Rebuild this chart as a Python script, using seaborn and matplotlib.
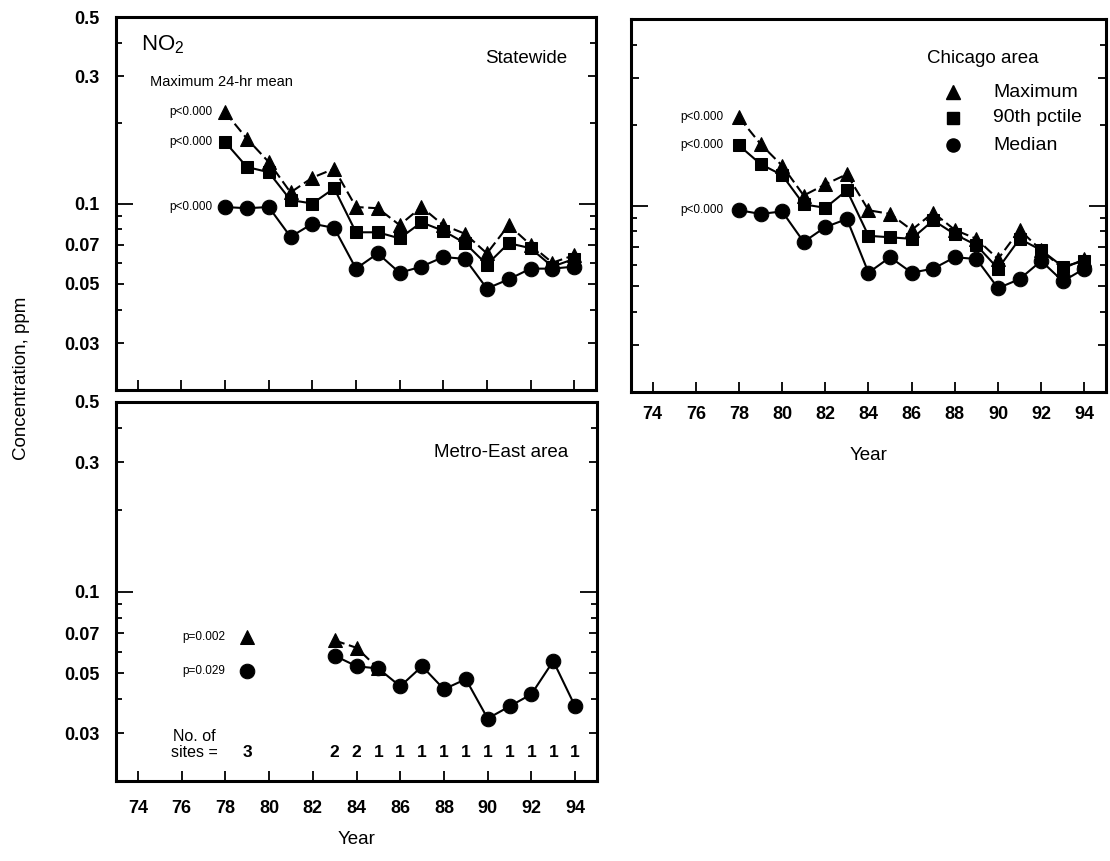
import matplotlib
matplotlib.use("Agg")
import matplotlib.pyplot as plt
import matplotlib.ticker as mticker
import numpy as np
import pandas as pd
import seaborn as sns

# ---- data: NO2 maximum 24-hr mean concentrations (ppm) ----
years = list(range(78, 95))

state_max = [0.220, 0.175, 0.143, 0.110, 0.125, 0.135, 0.097, 0.096, 0.083,
             0.097, 0.083, 0.077, 0.065, 0.083, 0.070, 0.060, 0.064]
state_p90 = [0.170, 0.137, 0.131, 0.103, 0.100, 0.114, 0.078, 0.078, 0.074,
             0.085, 0.079, 0.071, 0.059, 0.071, 0.068, 0.058, 0.062]
state_med = [0.097, 0.096, 0.097, 0.075, 0.084, 0.081, 0.057, 0.065, 0.055,
             0.058, 0.063, 0.062, 0.048, 0.052, 0.057, 0.057, 0.058]

chi_max = [0.214, 0.170, 0.141, 0.109, 0.120, 0.131, 0.096, 0.093, 0.081,
           0.094, 0.081, 0.075, 0.063, 0.081, 0.068, 0.058, 0.063]
chi_p90 = [0.168, 0.143, 0.130, 0.101, 0.098, 0.114, 0.077, 0.076, 0.075,
           0.088, 0.078, 0.071, 0.058, 0.075, 0.068, 0.059, 0.062]
chi_med = [0.096, 0.093, 0.095, 0.073, 0.083, 0.089, 0.056, 0.064, 0.056,
           0.058, 0.064, 0.063, 0.049, 0.053, 0.062, 0.052, 0.058]

metro_years = [79, 80, 81, 82, 83, 84, 85, 86, 87, 88, 89, 90, 91, 92, 93, 94]
metro_max = [0.068, np.nan, np.nan, np.nan, 0.066, 0.062, 0.052,
             np.nan, np.nan, np.nan, np.nan, np.nan, np.nan, np.nan, np.nan, np.nan]
metro_med = [0.051, np.nan, np.nan, np.nan, 0.058, 0.053, 0.052, 0.0447, 0.053,
             0.0436, 0.0475, 0.034, 0.0377, 0.0418, 0.0554, 0.0377]
metro_sites = [3, None, None, None, 2, 2, 1, 1, 1, 1, 1, 1, 1, 1, 1, 1]

state_p = ["p<0.000", "p<0.000", "p<0.000"]
chi_p = ["p<0.000", "p<0.000", "p<0.000"]
metro_p = ["p=0.002", "p=0.029"]

ytick_vals = [0.03, 0.05, 0.07, 0.1, 0.3, 0.5]
ytick_text = ["0.03", "0.05", "0.07", "0.1", "0.3", "0.5"]
xtick_vals = list(range(74, 95, 2))

# ---- style ----
sns.set_theme(style="ticks")
plt.rcParams["font.family"] = ["Liberation Sans", "DejaVu Sans"]
plt.rcParams["mathtext.fontset"] = "custom"
plt.rcParams["mathtext.rm"] = "Liberation Sans"
for key in ["text.color", "axes.labelcolor", "xtick.color", "ytick.color",
            "axes.edgecolor"]:
    plt.rcParams[key] = "black"

W, H = 1110, 861
fig = plt.figure(figsize=(W / 100, H / 100), dpi=100)


def px_axes(left, top, right, bottom):
    return fig.add_axes([left / W, 1 - bottom / H, (right - left) / W, (bottom - top) / H])


ax_s = px_axes(116, 17, 596, 390)
ax_c = px_axes(631, 19, 1106, 392)
ax_m = px_axes(116, 402, 597, 781)

MK = dict(max=("^", 10.5), p90=("s", 9.0), med=("o", 10.5))
LS = dict(max=(0, (5, 2.2)), p90="-", med="-")


def draw_series(ax, xs, ys, kind):
    df = pd.DataFrame({"Year": xs, "Conc": ys})
    run = df["Conc"].isna().cumsum()
    df = df.assign(run=run).dropna()
    marker, ms = MK[kind]
    for _, seg in df.groupby("run"):
        sns.lineplot(data=seg, x="Year", y="Conc", ax=ax, color="black",
                     marker=marker, markersize=ms, markeredgecolor="black",
                     linestyle=LS[kind], linewidth=1.5, estimator=None,
                     sort=True, legend=False)


def style_axes(ax, ylabels=True, xlabels=True):
    ax.set_yscale("log")
    ax.set_ylim(0.02, 0.5)
    ax.set_xlim(73.0, 95.0)
    ax.yaxis.set_major_locator(mticker.FixedLocator(ytick_vals))
    ax.yaxis.set_minor_locator(mticker.FixedLocator(
        [0.02, 0.04, 0.06, 0.08, 0.09, 0.2, 0.4]))
    ax.yaxis.set_minor_formatter(mticker.NullFormatter())
    if ylabels:
        ax.set_yticklabels(ytick_text)
    else:
        ax.set_yticklabels([])
    ax.set_xticks(xtick_vals)
    if xlabels:
        ax.set_xticklabels([str(v) for v in xtick_vals])
    else:
        ax.set_xticklabels([])
    ax.tick_params(axis="y", which="both", direction="in", left=True, right=True,
                   width=1.3, length=6, labelsize=13, pad=12, color="black",
                   labelcolor="black")
    ax.tick_params(axis="y", which="minor", length=4)
    ax.tick_params(axis="x", direction="in", bottom=True, top=False,
                   width=1.3, length=7, labelsize=13, color="black",
                   labelcolor="black")
    for t in ax.get_xticklabels() + ax.get_yticklabels():
        t.set_fontweight("bold")
    # the 0.1 decade tick is drawn longer
    for t in ax.yaxis.get_major_ticks():
        if abs(t.get_loc() - 0.1) < 1e-9:
            t.tick1line.set_markersize(12)
            t.tick2line.set_markersize(12)
    for sp in ax.spines.values():
        sp.set_visible(True)
        sp.set_linewidth(2.2)
        sp.set_color("black")
    ax.set_xlabel("")
    ax.set_ylabel("")
    ax.grid(False)


# ---- Statewide ----
draw_series(ax_s, years, state_max, "max")
draw_series(ax_s, years, state_p90, "p90")
draw_series(ax_s, years, state_med, "med")
style_axes(ax_s, ylabels=True, xlabels=False)
ax_s.text(0.052, 0.925, r"NO$_2$", transform=ax_s.transAxes, fontsize=16,
          va="center", ha="left")
ax_s.text(0.071, 0.826, "Maximum 24-hr mean", transform=ax_s.transAxes,
          fontsize=10.5, va="center", ha="left")
ax_s.text(0.94, 0.89, "Statewide", transform=ax_s.transAxes, fontsize=13.5,
          va="center", ha="right")
for lab, v in zip(state_p, [state_max[0], state_p90[0], state_med[0]]):
    ax_s.text(77.4, v, lab, fontsize=8.5, va="center", ha="right")

# ---- Chicago area ----
draw_series(ax_c, years, chi_max, "max")
draw_series(ax_c, years, chi_p90, "p90")
draw_series(ax_c, years, chi_med, "med")
style_axes(ax_c, ylabels=False, xlabels=True)
ax_c.tick_params(axis="x", pad=10)
ax_c.set_xlabel("Year", fontsize=13.5, labelpad=17)
ax_c.text(0.623, 0.895, "Chicago area", transform=ax_c.transAxes, fontsize=13.5,
          va="center", ha="left")
for lab, v in zip(chi_p, [chi_max[0], chi_p90[0], chi_med[0]]):
    ax_c.text(77.3, v, lab, fontsize=8.5, va="center", ha="right")
legend_rows = [("max", "Maximum", 0.804), ("p90", "90th pctile", 0.735),
               ("med", "Median", 0.662)]
for kind, lab, yy in legend_rows:
    marker, ms = MK[kind]
    ax_c.plot([0.678], [yy], marker=marker, markersize=ms * 0.9, color="black",
              linestyle="none", transform=ax_c.transAxes, clip_on=False)
    ax_c.text(0.762, yy, lab, transform=ax_c.transAxes, fontsize=14,
              va="center", ha="left")

# ---- Metro-East area ----
draw_series(ax_m, metro_years, metro_max, "max")
draw_series(ax_m, metro_years, metro_med, "med")
style_axes(ax_m, ylabels=True, xlabels=True)
ax_m.tick_params(axis="x", pad=14)
ax_m.set_xlabel("Year", fontsize=13.5, labelpad=10)
ax_m.text(0.94, 0.868, "Metro-East area", transform=ax_m.transAxes,
          fontsize=13.5, va="center", ha="right")
for lab, v in zip(metro_p, [metro_max[0], metro_med[0]]):
    ax_m.text(78.0, v, lab, fontsize=8.5, va="center", ha="right")
site_tf = ax_m.get_xaxis_transform()
ax_m.text(75.6, 0.117, "No. of", transform=site_tf, fontsize=11.5,
          va="center", ha="left")
ax_m.text(75.5, 0.074, "sites =", transform=site_tf, fontsize=11.5,
          va="center", ha="left")
for yr, n in zip(metro_years, metro_sites):
    if n is not None:
        ax_m.text(yr, 0.074, str(n), transform=site_tf, fontsize=12.5,
                  fontweight="bold", va="center", ha="center")

fig.text(22 / W, 1 - 378 / H, "Concentration, ppm", rotation=90,
         fontsize=13.5, va="center", ha="center")

fig.savefig("out.png", dpi=100, facecolor="white")
